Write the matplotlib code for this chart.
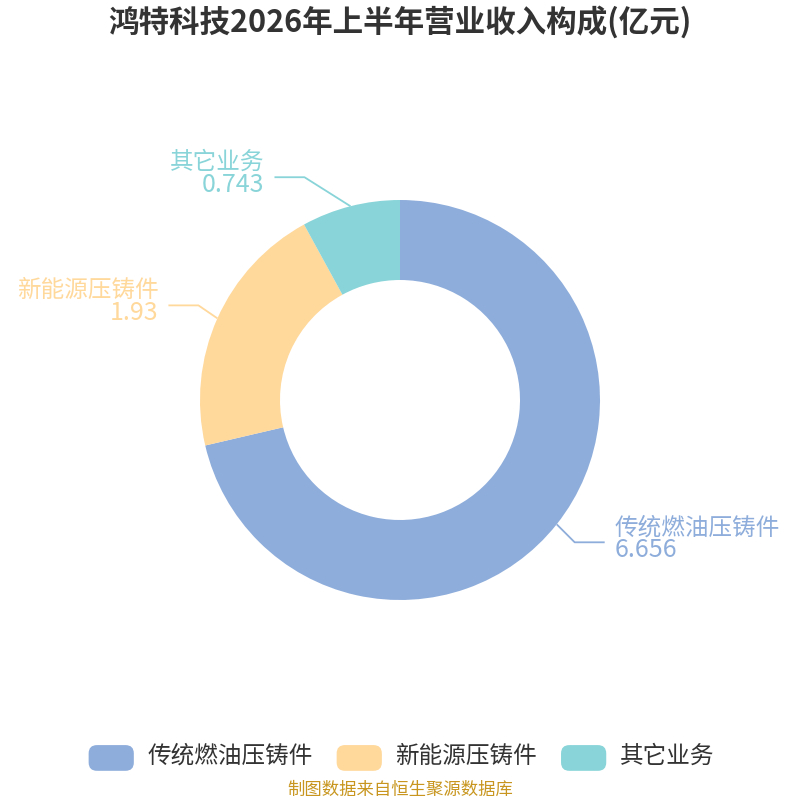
import numpy as np
import matplotlib
matplotlib.use("Agg")
import matplotlib.pyplot as plt
import matplotlib.patches as patches
from matplotlib.legend_handler import HandlerPatch

plt.rcParams['font.family'] = ['Noto Sans CJK SC', 'DejaVu Sans']

# 数据
categories = ['传统燃油压铸件', '新能源压铸件', '其它业务']
values = [6.656, 1.93, 0.743]
value_labels = ['6.656', '1.93', '0.743']
colors = ['#8EADDB', '#FFD89B', '#88D4D8']

# 引导线拐点相对扇区外缘的偏移(像素), 以及水平段长度
elbow_offsets = [(18, -18), (-19, 13), (-46, 29)]
length2 = 30


class RoundHandler(HandlerPatch):
    def create_artists(self, legend, orig_handle, xdescent, ydescent,
                       width, height, fontsize, trans):
        p = patches.FancyBboxPatch((-xdescent + 2, -ydescent - 2), width - 4, height,
                                   boxstyle="round,pad=0,rounding_size=6",
                                   facecolor=orig_handle.get_facecolor(),
                                   edgecolor='none', transform=trans)
        return [p]


fig = plt.figure(figsize=(8, 8), dpi=100)
ax = fig.add_axes([0, 0, 1, 1])

cx, cy, R = 400, 400, 200
wedges, _ = ax.pie(values, colors=colors, startangle=90, counterclock=False,
                   center=(cx, cy), radius=R,
                   wedgeprops=dict(width=80, edgecolor='none'))

# pie 会重设坐标范围, 之后再设
ax.set_xlim(0, 800)
ax.set_ylim(0, 800)
ax.set_aspect('equal')
ax.axis('off')

for i, w in enumerate(wedges):
    mid = np.deg2rad((w.theta1 + w.theta2) / 2)
    x0 = cx + R * np.cos(mid)
    y0 = cy + R * np.sin(mid)
    ex, ey = x0 + elbow_offsets[i][0], y0 + elbow_offsets[i][1]
    side = 1 if np.cos(mid) > 0 else -1
    x2 = ex + side * length2
    ax.plot([x0, ex, x2], [y0, ey, ey], color=colors[i], lw=1.3,
            solid_capstyle='butt')
    ha = 'left' if side > 0 else 'right'
    tx = x2 + side * 10
    ax.text(tx, ey + 3, categories[i], ha=ha, va='bottom', fontsize=17,
            color=colors[i])
    ax.text(tx, ey + 5, value_labels[i], ha=ha, va='top', fontsize=18,
            color=colors[i])

fig.text(0.5, 0.972, '鸿特科技2026年上半年营业收入构成(亿元)', ha='center', va='center',
         fontsize=22, fontweight='bold', color='#333333')

handles = [patches.Patch(facecolor=c, label=l) for c, l in zip(colors, categories)]
fig.legend(handles=handles, loc='center', bbox_to_anchor=(0.5, 0.056), ncol=3,
           frameon=False, fontsize=17, handlelength=2.15, handleheight=1.3,
           handletextpad=0.45, columnspacing=0.9, labelcolor='#333333',
           handler_map={patches.Patch: RoundHandler()})

fig.text(0.5, 0.013, '制图数据来自恒生聚源数据库', ha='center', va='center',
         fontsize=12.5, color='#C8961E')

fig.savefig('out.png', dpi=100)
